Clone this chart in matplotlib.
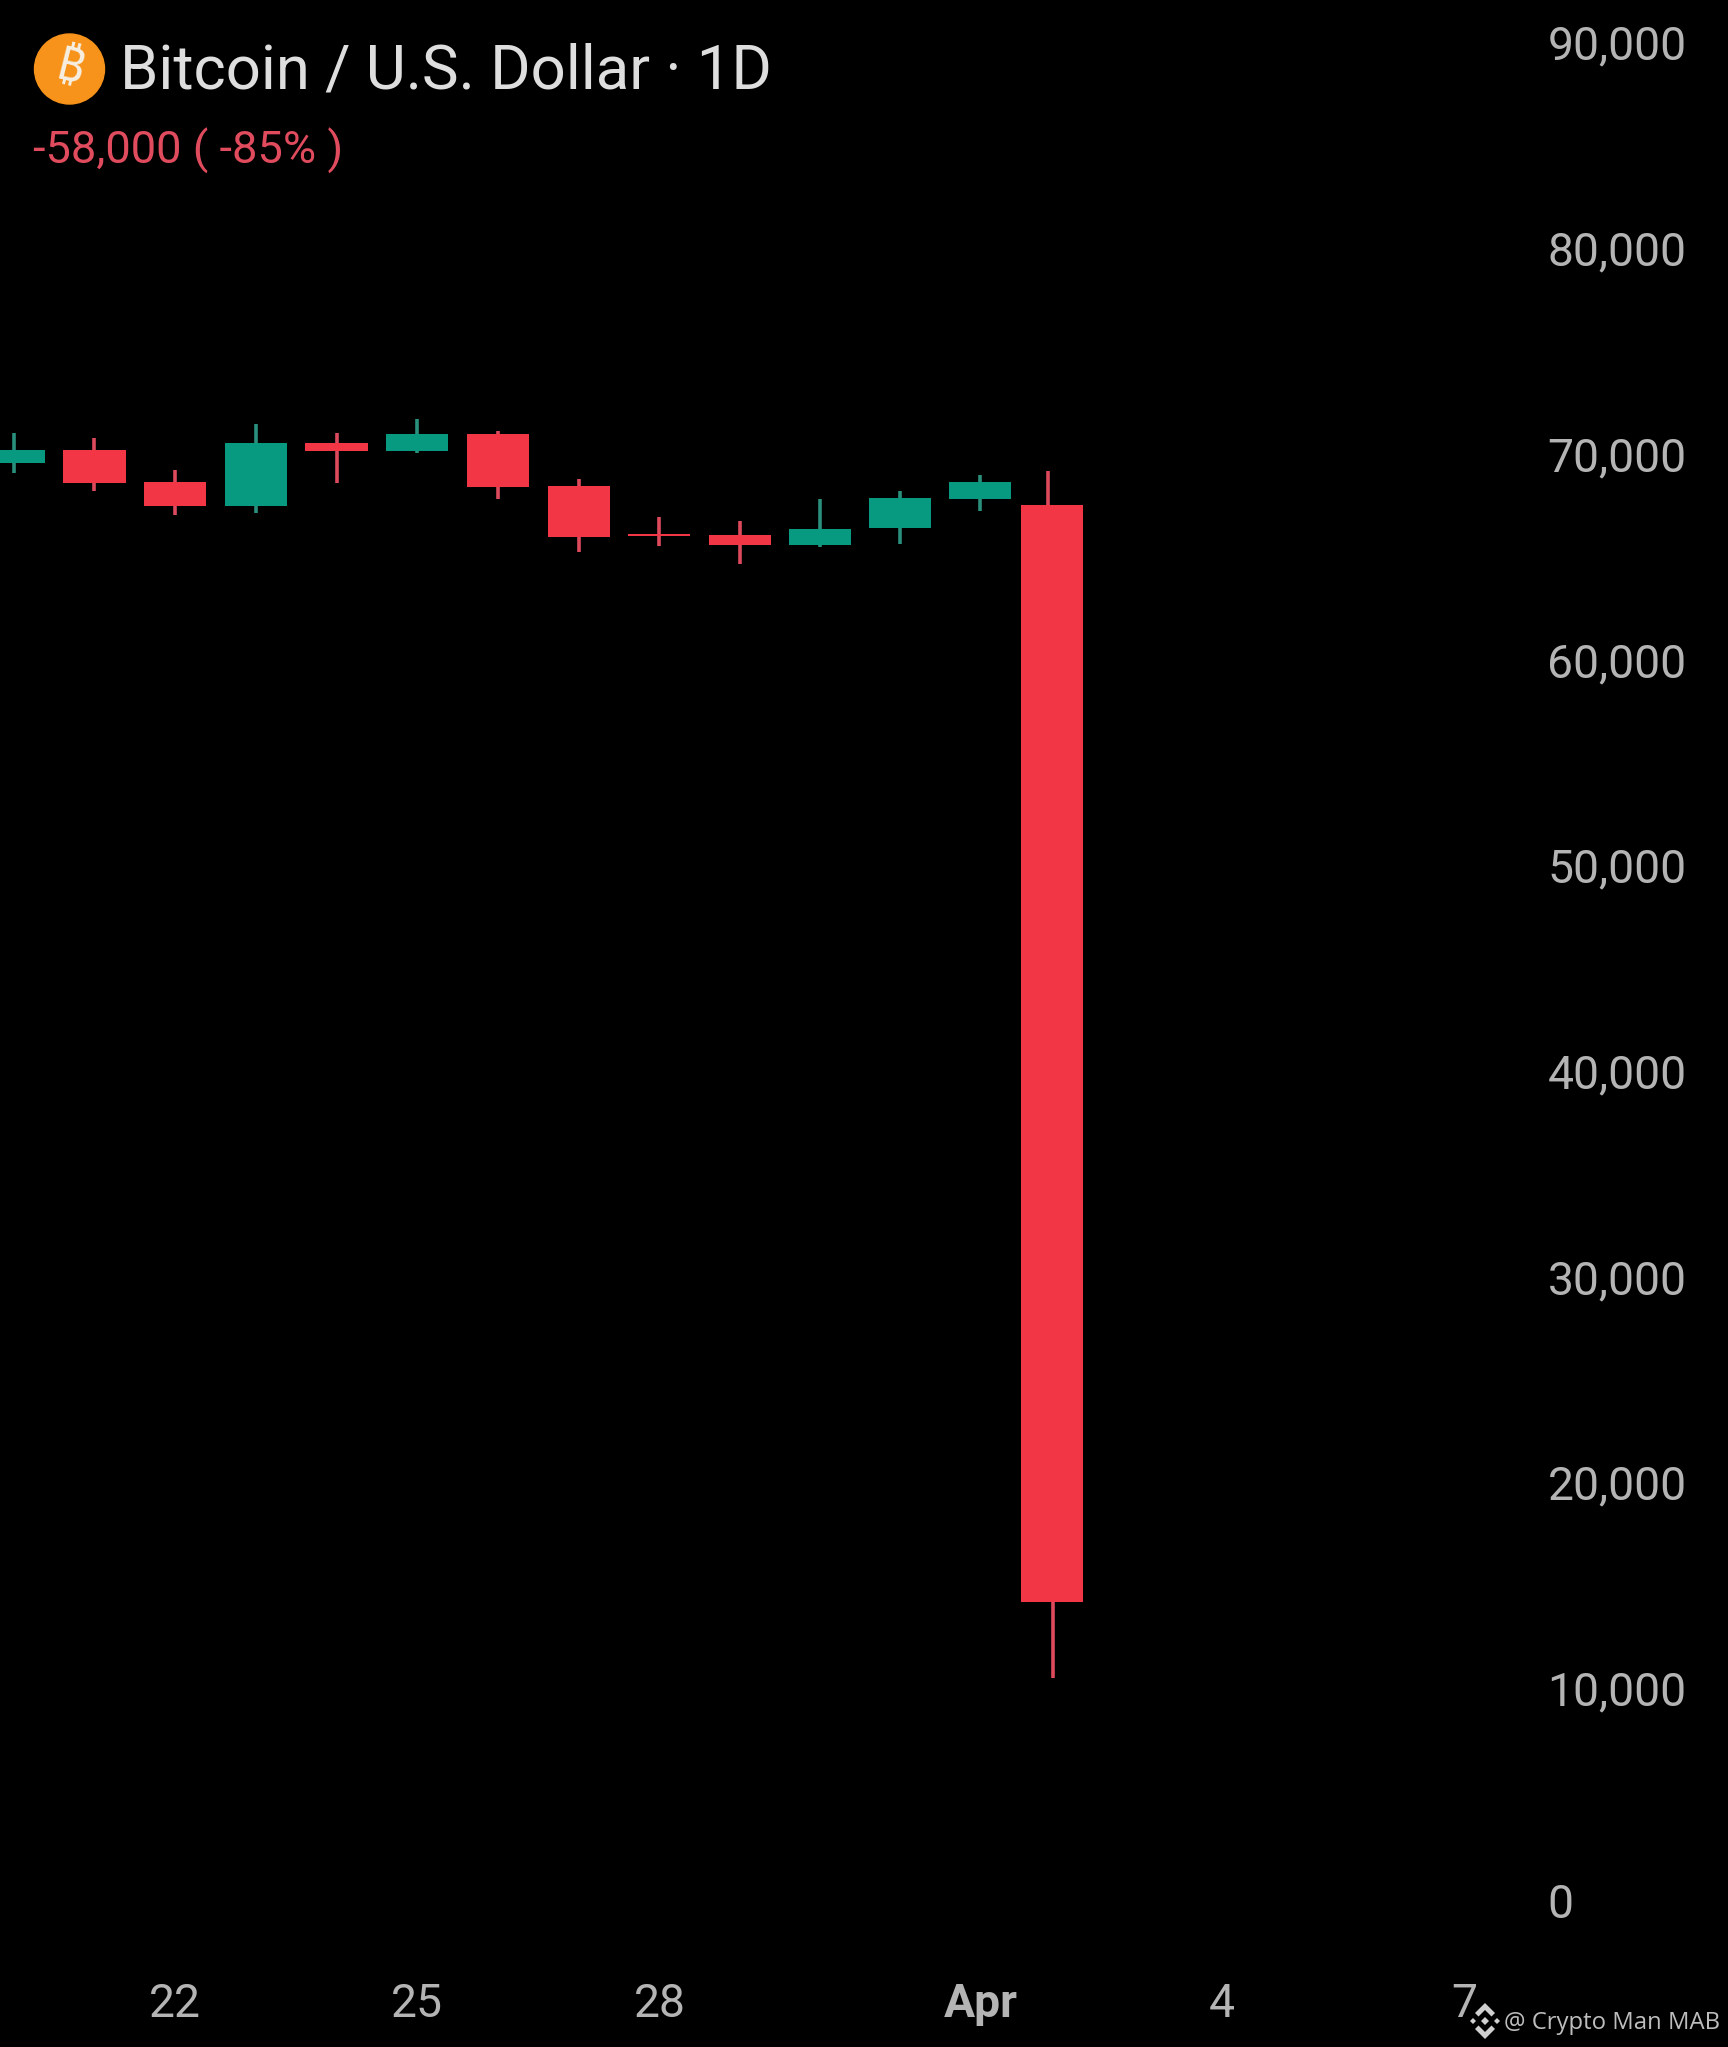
import matplotlib
matplotlib.use("Agg")
import matplotlib.pyplot as plt
from matplotlib.patches import Circle, Polygon
from matplotlib.transforms import ScaledTranslation, IdentityTransform

W, H = 1728, 2047
DPI = 100

# Candle data
days = [20, 21, 22, 23, 24, 25, 26, 27, 28, 29, 29.99, 30.98, 31.97, 32.865]
opens = [69569, 70216, 68646, 67494, 70571, 70167, 70979, 68480, 66118, 66069, 65583, 66424, 67834, 67528]
closes = [70216, 68597, 67494, 70571, 70167, 70979, 68403, 66001, 66035, 65583, 66390, 67897, 68646, 14231]
highs = [71057, 70814, 69244, 71480, 71057, 71723, 71154, 68806, 66973, 66779, 67819, 68237, 68986, 69210]
lows = [69098, 68237, 67056, 67168, 68597, 70085, 67834, 65243, 65564, 64660, 65486, 65646, 67251, 10523]
upper_wick_days = [20, 21, 22, 23, 24, 25, 26, 27, 28, 29, 29.99, 30.98, 31.97, 32.82]
lower_wick_days = [20, 21, 22, 23, 24, 25, 26, 27, 28, 29, 29.99, 30.98, 31.97, 32.88]

y_ticks = [0, 10000, 20000, 30000, 40000, 50000, 60000, 70000, 80000, 90000]
x_ticks = [22, 25, 28, 31.98, 34.97, 37.97]
x_labels = ["22", "25", "28", "Apr", "4", "7"]

title = "Bitcoin / U.S. Dollar · 1D"
change = "-58,000 ( -85% )"
watermark = "@ Crypto Man MAB"

RED, GREEN = "#f23645", "#089981"
WICK_RED, WICK_GREEN = "#dc4a5c", "#2a8f7c"
LABEL = "#b4b4b4"

plt.rcParams["font.family"] = ["Roboto", "DejaVu Sans"]
fig = plt.figure(figsize=(W / DPI, H / DPI), dpi=DPI, facecolor="black")
ax = fig.add_axes([0, 0, 1, 1], facecolor="black")
ax.set_xlim(19.83, 41.24)
ax.set_ylim(-7416, 92090)
for s in ax.spines.values():
    s.set_visible(False)

for i in range(len(days)):
    up = closes[i] >= opens[i]
    body_c, wick_c = (GREEN, WICK_GREEN) if up else (RED, WICK_RED)
    top, bot = max(opens[i], closes[i]), min(opens[i], closes[i])
    ax.vlines(upper_wick_days[i], top, highs[i], color=wick_c, lw=2.6, zorder=2)
    ax.vlines(lower_wick_days[i], lows[i], bot, color=wick_c, lw=2.6, zorder=2)
    ax.bar(days[i], top - bot, bottom=bot, width=0.77, color=body_c, linewidth=0, zorder=3)

ax.set_yticks(y_ticks)
ax.set_yticklabels([f"{v:,}" for v in y_ticks])
ax.set_xticks(x_ticks)
ax.set_xticklabels(x_labels)
ax.tick_params(axis="y", length=0, labelleft=False, labelright=True, pad=-130,
               labelsize=33.3, labelcolor=LABEL)
ax.tick_params(axis="x", length=0, pad=-31, labelsize=33.3, labelcolor=LABEL)
for lab in ax.get_xticklabels():
    lab.set_va("center")
    if lab.get_text() == "Apr":
        lab.set_fontweight("bold")
shift = ScaledTranslation(0, 0.5 / 72, fig.dpi_scale_trans)
for lab in ax.get_yticklabels()[1:]:
    lab.set_transform(lab.get_transform() + shift)
zero = ax.get_yticklabels()[0]
zero.set_transform(zero.get_transform() + ScaledTranslation(0, -4.5 / 72, fig.dpi_scale_trans))


def px(x, y):
    return x / W, 1 - y / H


fig.text(*px(120, 88), title, color="#dedede", fontsize=44.4, va="baseline", ha="left")
fig.text(*px(33, 164), change, color="#e04c5e", fontsize=32.6, va="baseline", ha="left")
fig.text(*px(1504, 2023), watermark, color="#bdbdbd", fontsize=17.2, va="center", ha="left",
         family="Open Sans")

# Bitcoin badge
fig.add_artist(Circle((69.5, H - 69), 35, color="#f7931a", transform=IdentityTransform()))
fig.text(*px(70, 69), "₿", color="#f6efe2", fontsize=34, fontweight="bold", rotation=-14,
         ha="center", va="center", family=["Noto Sans", "Inter", "Open Sans", "Lato", "Liberation Sans", "Roboto"])


# Watermark logo
def diamond(cx, cy, r):
    fig.add_artist(Polygon([(cx - r, H - cy), (cx, H - cy + r), (cx + r, H - cy), (cx, H - cy - r)],
                           closed=True, color="#d0d0d0", lw=0, transform=IdentityTransform()))


def chevron(cx, cy, sign):
    pts = [(cx - 10, cy), (cx, cy + sign * 10), (cx + 10, cy),
           (cx + 6.5, cy - sign * 3.5), (cx, cy + sign * 3), (cx - 6.5, cy - sign * 3.5)]
    fig.add_artist(Polygon([(a, H - b) for a, b in pts], closed=True, color="#d0d0d0", lw=0,
                           transform=IdentityTransform()))


diamond(1485, 2021, 4)
diamond(1473, 2021, 3)
diamond(1497, 2021, 3)
chevron(1485, 2021 - 8, -1)
chevron(1485, 2021 + 8, 1)

fig.savefig("out.png", dpi=DPI, facecolor="black")
